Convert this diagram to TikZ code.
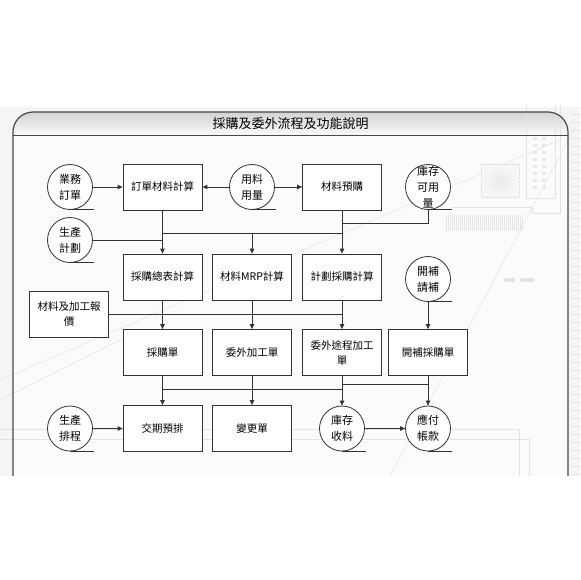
\documentclass[tikz,border=0pt]{standalone}
\usepackage{fontspec}
\newfontfamily\cjk{Noto Sans CJK TC}
\usetikzlibrary{positioning,arrows.meta}
\definecolor{edge}{HTML}{333333}
\definecolor{frameline}{HTML}{484848}

\begin{document}
\begin{tikzpicture}[x=1pt,y=-1pt]
		\tikzstyle{every node}+=[inner sep=0pt]
		\tikzstyle{proc}=[draw=edge, fill=white, line width=0.8pt, minimum width=79pt, minimum height=46pt, align=center, font=\cjk\fontsize{10.5}{15}\selectfont]
		\tikzstyle{src}=[circle, draw=edge, fill=white, line width=0.8pt, minimum size=45pt, inner sep=-6pt, align=center, font=\cjk\fontsize{11}{16}\selectfont]
		\tikzstyle{flow}=[draw=edge, line width=0.9pt]
		\tikzstyle{arr}=[flow, -{Triangle[length=5pt,width=4.5pt]}]
		\tikzstyle{deco}=[draw=gray!22, line width=0.5pt]
		\useasboundingbox (0,0) rectangle (580,580);
		\fill[white] (0,0) rectangle (580,580);
		% slide background
		\fill[gray!8] (0,107) rectangle (580,476);
		\begin{scope}
		\clip[rounded corners=20pt] (13,520) |- (568,112) -- (568,520) -- cycle;
		\fill[gray!3] (13,135) rectangle (568,476);
		\shade[top color=gray!35, bottom color=gray!4] (13,112) rectangle (568,135);
		\end{scope}
		% faint board decoration
		\draw[deco] (560,140) -- (0,380);
		\draw[deco] (575,127) -- (390,476);
		\draw[deco] (0,400) -- (130,335);
		\draw[deco] (0,429) -- (519,429) -- (519,476);
		\draw[deco] (0,439) -- (529,439) -- (529,476);
		\shade[inner color=gray!16, outer color=gray!6, draw=gray!25, densely dotted] (481,164) rectangle (519,197);
		\draw[deco] (526,105) -- (526,198) -- (555,198) -- (555,105);
		\foreach \yy in {137,144,...,191} {
			\fill[gray!18] (533,\yy) rectangle +(4,3);
			\fill[gray!18] (542,\yy) rectangle +(4,3);
		}
		\draw[deco] (452,207) -- (532,207) -- (532,213) -- (560,213) -- (560,105);
		\foreach \xx in {446,448,...,522}
			\draw[draw=gray!20, line width=0.6pt] (\xx,215) -- (\xx,231);
		\fill[gray!22] (504,278) rectangle (515,282);
		\fill[gray!22] (520,278) rectangle (534,282);
		\foreach \yy in {114,122,...,474}
			\draw[deco] (571,\yy) -- (580,\yy);
		% frame and title
		\draw[frameline, line width=1.2pt, rounded corners=20pt] (13,476) |- (568,112) -- (568,476);
		\draw[frameline, line width=0.8pt] (13,135) -- (568,135);
		\node[font=\cjk\fontsize{13}{13}\selectfont] (title) at (290.5,123.5) {採購及委外流程及功能說明};
		% row 1
		\node[src] (order) at (70,187) {業務\\訂單};
		\node[proc] (ordcalc) at (162.5,187) {訂單材料計算};
		\node[src] (usage) at (252,187) {用料\\用量};
		\node[proc] (prebuy) at (342,187) {材料預購};
		\node[src] (stock) at (428,187) {庫存\\可用\\量};
		\node[src] (plan) at (70,240) {生產\\計劃};
		% row 2
		\node[proc] (sumcalc) at (162.5,277) {採購總表計算};
		\node[proc] (mrpcalc) at (252,277) {材料MRP計算};
		\node[proc] (plancalc) at (342,277) {計劃採購計算};
		\node[src] (refill) at (428,279) {開補\\請補};
		\node[proc] (quote) at (69,314.5) {材料及加工報\\價};
		% row 3
		\node[proc] (po) at (162.5,352.5) {採購單};
		\node[proc] (subpo) at (252,352.5) {委外加工單};
		\node[proc] (routepo) at (342,352.5) {委外途程加工\\單};
		\node[proc] (refillpo) at (428,352.5) {開補採購單};
		% row 4
		\node[src] (sched) at (70,428.5) {生產\\排程};
		\node[proc] (duedate) at (162.5,428.5) {交期預排};
		\node[proc] (change) at (252,428.5) {變更單};
		\node[src] (recv) at (342,428.5) {庫存\\收料};
		\node[src] (pay) at (428,428.5) {應付\\帳款};
		% underlines of the circles
		\foreach \c in {order,usage,stock,plan,refill,sched,recv,pay}
			\draw[flow] (\c.south) -- ([xshift=1pt]\c.south -| \c.east);
		% bus lines
		\coordinate (bus0) at (0,223);
		\coordinate (bus1) at (0,233);
		\coordinate (bus2) at (0,384);
		\coordinate (bus3) at (0,389);
		\draw[arr] (order) -- (ordcalc);
		\draw[arr] (usage) -- (ordcalc);
		\draw[arr] (usage) -- (prebuy);
		\draw[arr] (ordcalc) -- (sumcalc);
		\draw[arr] (prebuy) -- (plancalc);
		\draw[flow] (stock.south) |- (prebuy.south |- bus0);
		\draw[flow] (ordcalc.south |- bus1) -- (prebuy.south |- bus1);
		\draw[arr] (mrpcalc.north |- bus1) -- (mrpcalc);
		\draw[flow] (plan.east) -- (plan.east -| ordcalc.south);
		\draw[arr] (sumcalc) -- (po);
		\draw[arr] (mrpcalc) -- (subpo);
		\draw[arr] (plancalc) -- (routepo);
		\draw[flow] (quote.east) -- (quote.east -| plancalc.south);
		\draw[arr] (refill) -- (refillpo);
		\draw[arr] (po) -- (duedate);
		\draw[arr] (subpo) -- (change);
		\draw[arr] (routepo) -- (recv);
		\draw[arr] (refillpo) -- (pay);
		\draw[flow] (routepo.south |- bus2) -- (refillpo.south |- bus2);
		\draw[flow] (po.south |- bus3) -- (routepo.south |- bus3);
		\draw[arr] (sched) -- (duedate);
		\draw[arr] (recv) -- (pay);
\end{tikzpicture}
\end{document}
